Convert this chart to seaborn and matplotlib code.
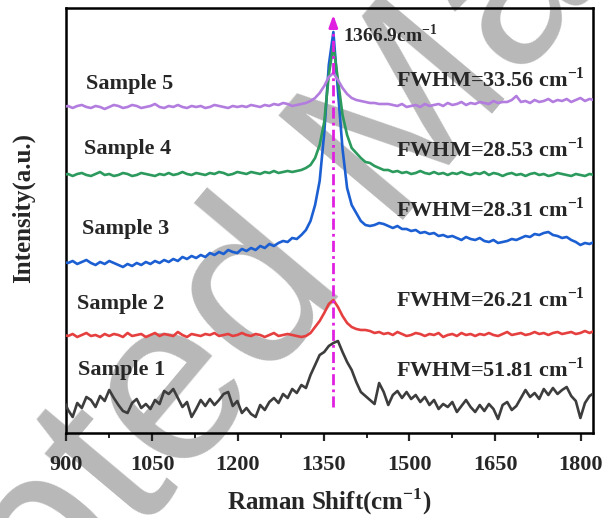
import numpy as np
import pandas as pd
import seaborn as sns
import matplotlib.pyplot as plt
from matplotlib.ticker import MultipleLocator

# Raman shift grid (cm-1) and the five offset spectra (a.u., stacked)
raman_shift = np.arange(895, 1824, 8)

sample_1 = [33, 23, 16, 30, 25, 36, 33, 26, 37, 32,
            43, 35, 28, 22, 20, 30, 34, 25, 29, 24,
            33, 29, 42, 39, 44, 35, 26, 31, 16, 24,
            33, 27, 34, 28, 33, 39, 41, 27, 32, 20,
            25, 19, 16, 28, 23, 31, 35, 30, 39, 35,
            44, 40, 48, 45, 58, 68, 78, 81, 87, 90,
            92, 81, 71, 63, 51, 41, 37, 33, 29, 50,
            41, 28, 38, 42, 35, 41, 34, 38, 31, 36,
            28, 33, 24, 29, 26, 31, 21, 27, 33, 26,
            21, 28, 22, 29, 24, 14, 28, 31, 23, 27,
            35, 43, 36, 40, 34, 44, 38, 45, 39, 43,
            46, 37, 32, 15, 30, 37, 40]

sample_2 = [98, 97, 99, 96, 98, 100, 97, 98, 96, 99,
            97, 99, 98, 96, 100, 97, 98, 99, 96, 98,
            100, 97, 99, 98, 97, 101, 98, 96, 99, 98,
            97, 99, 98, 100, 97, 98, 99, 97, 98, 100,
            98, 97, 99, 98, 96, 98, 100, 97, 98, 99,
            98, 97, 96, 97, 100, 106, 112, 120, 129, 133,
            126, 117, 110, 106, 104, 103, 103, 102, 100, 101,
            99, 100, 98, 101, 99, 97, 98, 100, 99, 97,
            99, 98, 100, 96, 98, 99, 97, 100, 98, 99,
            97, 99, 98, 100, 98, 97, 99, 101, 98, 99,
            100, 98, 99, 101, 99, 100, 98, 100, 101, 99,
            100, 101, 99, 100, 102, 100, 102]

sample_3 = [171, 170, 172, 169, 171, 173, 170, 168, 171, 169,
            172, 170, 168, 166, 169, 167, 170, 168, 171, 169,
            172, 170, 173, 171, 174, 172, 176, 174, 177, 175,
            178, 176, 180, 178, 181, 179, 183, 181, 180, 184,
            182, 185, 183, 187, 185, 189, 187, 190, 192, 191,
            195, 194, 198, 203, 212, 228, 252, 300, 368, 401,
            342, 284, 245, 228, 220, 212, 208, 207, 208, 210,
            209, 207, 205, 207, 204, 204, 202, 203, 200, 201,
            199, 200, 197, 198, 196, 197, 195, 193, 196, 194,
            193, 195, 192, 191, 193, 190, 191, 192, 194, 193,
            195, 197, 196, 199, 198, 200, 201, 198, 197, 195,
            196, 193, 191, 188, 190, 189, 191]

sample_4 = [258, 259, 257, 259, 260, 258, 257, 259, 261, 258,
            259, 257, 258, 260, 259, 257, 258, 260, 259, 258,
            257, 259, 258, 260, 258, 259, 261, 259, 258, 260,
            259, 258, 260, 259, 261, 260, 258, 259, 261, 260,
            259, 261, 260, 259, 261, 260, 262, 260, 261, 262,
            261, 262, 263, 265, 268, 275, 288, 311, 358, 388,
            353, 318, 298, 285, 280, 275, 271, 270, 267, 265,
            263, 263, 261, 262, 260, 261, 259, 260, 262, 260,
            259, 261, 259, 260, 258, 260, 259, 261, 259, 258,
            260, 259, 261, 258, 260, 259, 257, 259, 260, 258,
            259, 257, 259, 260, 258, 259, 257, 258, 260, 259,
            258, 257, 259, 258, 257, 259, 258]

sample_5 = [326, 327, 325, 327, 328, 326, 325, 327, 326, 324,
            326, 328, 327, 325, 326, 328, 327, 325, 326, 327,
            329, 326, 325, 327, 326, 328, 326, 325, 327, 326,
            327, 325, 326, 328, 327, 326, 325, 327, 326, 327,
            326, 328, 327, 326, 328, 327, 329, 328, 330, 329,
            327, 328, 329, 330, 332, 335, 340, 347, 356, 360,
            353, 345, 339, 335, 333, 332, 331, 330, 330, 329,
            329, 329, 328, 327, 329, 326, 327, 328, 326, 329,
            327, 328, 329, 327, 330, 328, 329, 331, 328, 330,
            329, 331, 330, 329, 332, 330, 331, 331, 333, 337,
            331, 332, 330, 333, 331, 332, 334, 331, 333, 332,
            334, 331, 333, 335, 332, 334, 333]

sample_names = ["Sample 1", "Sample 2", "Sample 3", "Sample 4", "Sample 5"]
fwhm_labels = ["51.81", "26.21", "28.31", "28.53", "33.56"]
colors = ["#3d3d3d", "#e5403f", "#1c5fd2", "#2b9a5c", "#b27ddf"]
peak_position = 1366.9

# anchor points of the text labels (same units as the stacked spectra)
name_x = [920, 919, 927, 931, 934]
name_y = [58, 124, 199, 279, 344]
fwhm_y = [56, 126, 216, 276, 346]

spectra = [sample_1, sample_2, sample_3, sample_4, sample_5]
df = pd.concat([pd.DataFrame({"Raman Shift": raman_shift, "Intensity": s, "Sample": n})
                for s, n in zip(spectra, sample_names)], ignore_index=True)

sns.set_style("ticks")
plt.rcParams["font.family"] = ["Liberation Serif", "DejaVu Serif"]
plt.rcParams["font.weight"] = "bold"
plt.rcParams["axes.labelweight"] = "bold"
plt.rcParams["mathtext.fontset"] = "custom"
plt.rcParams["mathtext.rm"] = "Liberation Serif:bold"
plt.rcParams["mathtext.bf"] = "Liberation Serif:bold"

fig = plt.figure(figsize=(6.05, 5.18), dpi=100)

# journal watermark behind everything
fig.text(0.625, 0.70, "Accepted Manuscript", rotation=50, fontsize=170,
         family="Liberation Sans", fontweight="normal", color="#b8b8b8",
         ha="center", va="center", rotation_mode="anchor", zorder=-1)

ax = fig.add_axes([0.1097, 0.1641, 0.8704, 0.8205])
ax.set_facecolor("none")

sns.lineplot(data=df, x="Raman Shift", y="Intensity", hue="Sample",
             palette=dict(zip(sample_names, colors)), linewidth=1.9,
             legend=False, ax=ax, zorder=3)

# peak marker: dash-dot line with arrow head
mag = "#e020e0"
ax.plot([peak_position, peak_position], [26, 408], color=mag, lw=2,
        dashes=(4, 1.5, 1, 1.5), zorder=4)
ax.annotate("", xy=(peak_position, 421), xytext=(peak_position, 404),
            arrowprops=dict(arrowstyle="-|>,head_length=0.7,head_width=0.25",
                            color=mag, lw=2), zorder=4)
ax.text(1384, 391, r"1366.9cm$^{\mathbf{-1}}$", fontsize=14, ha="left",
        va="baseline", zorder=5)

for name, fw, xn, yn, yf in zip(sample_names, fwhm_labels, name_x, name_y, fwhm_y):
    ax.text(xn, yn, name, fontsize=16, ha="left", va="baseline", zorder=5)
    ax.text(1807, yf, "FWHM=" + fw + r" cm$^{\mathbf{-1}}$", fontsize=16,
            ha="right", va="baseline", zorder=5)

ax.set_xlim(900, 1821)
ax.set_ylim(0, 425)
ax.set_yticks([])
ax.xaxis.set_major_locator(MultipleLocator(150))
ax.xaxis.set_minor_locator(MultipleLocator(75))
ax.tick_params(axis="x", which="major", direction="out", length=6, width=1.6,
               labelsize=16, pad=10)
ax.tick_params(axis="x", which="minor", direction="out", length=3.5, width=1.4)
for sp in ax.spines.values():
    sp.set_linewidth(1.8)
    sp.set_color("black")

ax.set_xlabel(r"Raman Shift(cm$^{\mathbf{-1}}$)", fontsize=18)
ax.set_ylabel("Intensity(a.u.)", fontsize=18)
ax.xaxis.set_label_coords(0.5, -0.125)
ax.yaxis.set_label_coords(-0.06, 0.53)

fig.savefig("out.png", dpi=100)
